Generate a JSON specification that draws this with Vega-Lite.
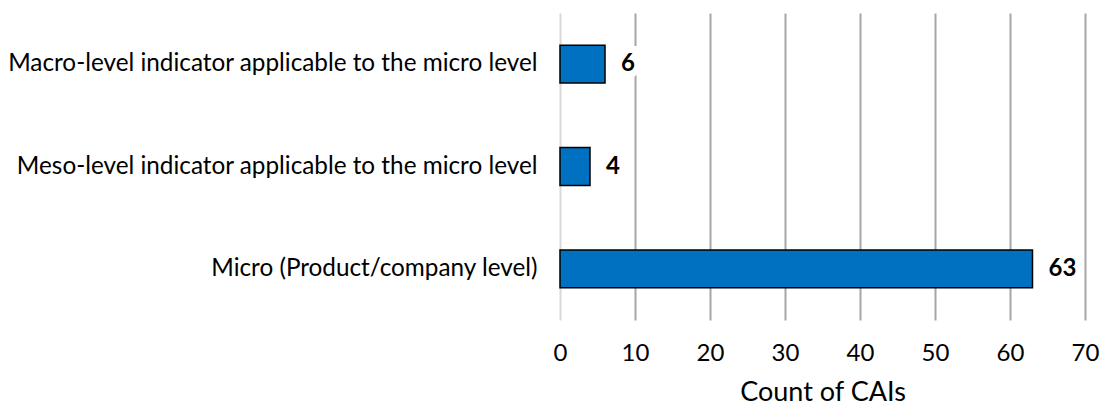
{
  "$schema": "https://vega.github.io/schema/vega-lite/v6.json",
  "width": 525,
  "height": 307,
  "padding": {"left": 7, "top": 13, "right": 22, "bottom": 5},
  "autosize": {"type": "pad"},
  "background": "white",
  "config": {
    "font": "Lato",
    "view": {"stroke": null}
  },
  "data": {
    "values": [
      {"level": "Macro-level indicator applicable to the micro level", "count": 6},
      {"level": "Meso-level indicator applicable to the micro level", "count": 4},
      {"level": "Micro (Product/company level)", "count": 63}
    ]
  },
  "encoding": {
    "y": {
      "field": "level",
      "type": "nominal",
      "sort": null,
      "scale": {"paddingInner": 0.63, "paddingOuter": 0.315},
      "axis": {
        "title": null,
        "domain": false,
        "ticks": false,
        "labelFontSize": 24.3,
        "labelColor": "#000000",
        "labelPadding": 23,
        "labelLimit": 800,
        "grid": false
      }
    },
    "x": {
      "field": "count",
      "type": "quantitative",
      "scale": {"domain": [0, 70], "nice": false},
      "axis": {
        "title": "Count of CAIs",
        "titleFontSize": 27,
        "titleFontWeight": "normal",
        "titleColor": "#000000",
        "titlePadding": 14,
        "values": [0, 10, 20, 30, 40, 50, 60, 70],
        "domain": false,
        "ticks": false,
        "labelFontSize": 24,
        "labelColor": "#000000",
        "labelPadding": 21,
        "labelFlush": false,
        "labelOverlap": false,
        "grid": true,
        "gridColor": {"condition": {"test": "datum.value === 0", "value": "#d9d9d9"}, "value": "#a6a6a6"},
        "gridWidth": 2
      }
    }
  },
  "layer": [
    {
      "mark": {"type": "bar", "color": "#0070C0", "stroke": "#000000", "strokeWidth": 1.5}
    },
    {
      "mark": {"type": "text", "align": "left", "baseline": "middle", "dx": 16, "fontSize": 24, "fontWeight": "bold", "stroke": "white", "strokeWidth": 14, "fill": "white"},
      "encoding": {"text": {"field": "count", "type": "quantitative"}}
    },
    {
      "mark": {"type": "text", "align": "left", "baseline": "middle", "dx": 16, "fontSize": 24, "fontWeight": "bold", "color": "#000000"},
      "encoding": {"text": {"field": "count", "type": "quantitative"}}
    }
  ]
}
